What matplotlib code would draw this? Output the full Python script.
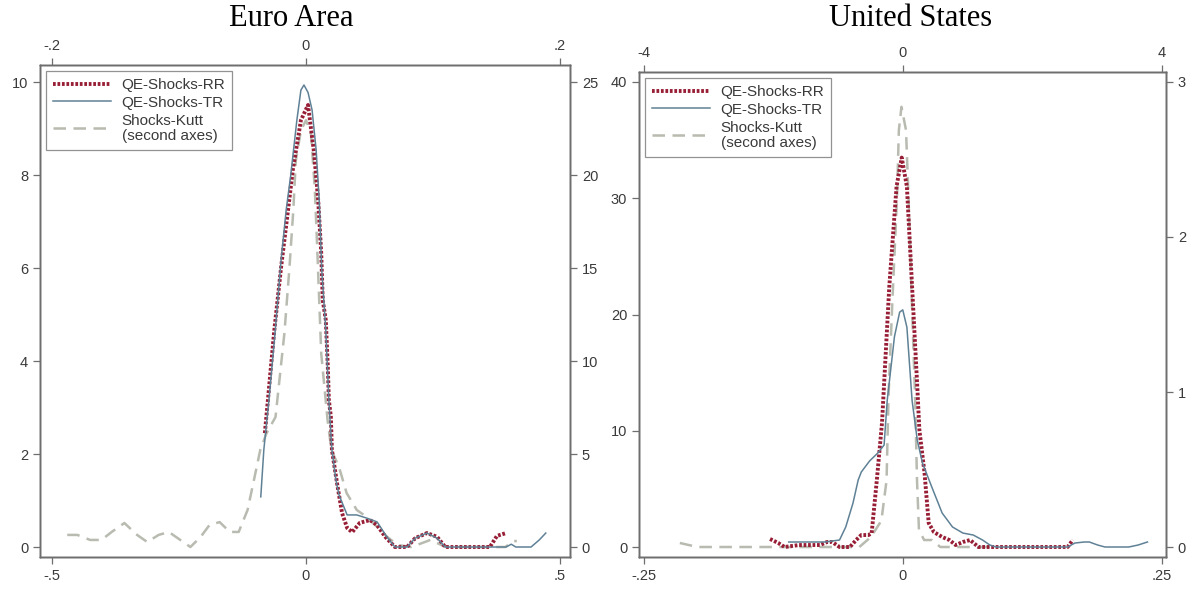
import matplotlib
matplotlib.use("Agg")
import matplotlib.pyplot as plt

# ---- Euro Area ----
ea_rr_x = [-0.081, -0.075, -0.063, -0.049, -0.033, -0.026, -0.010, 0.004, 0.016, 0.024, 0.030,
           0.033, 0.039, 0.043, 0.045, 0.049, 0.051, 0.061, 0.071, 0.081, 0.091, 0.106, 0.126,
           0.140, 0.156, 0.175, 0.199, 0.215, 0.238, 0.258, 0.274, 0.362, 0.376, 0.394]
ea_rr_y = [2.45, 3.16, 4.60, 6.02, 7.46, 8.11, 9.18, 9.51, 8.47, 7.46, 6.32,
           5.31, 4.88, 3.87, 3.16, 2.80, 2.09, 1.38, 0.73, 0.41, 0.32, 0.52, 0.58,
           0.47, 0.22, 0.0, 0.0, 0.19, 0.30, 0.22, 0.0, 0.0, 0.24, 0.30]

ea_tr_x = [-0.089, -0.083, -0.073, -0.061, -0.049, -0.039, -0.030, -0.018, -0.010, -0.004, 0.004,
           0.012, 0.020, 0.026, 0.031, 0.039, 0.045, 0.051, 0.059, 0.065, 0.081, 0.100, 0.120,
           0.140, 0.159, 0.175, 0.199, 0.215, 0.238, 0.258, 0.274, 0.394, 0.404, 0.413, 0.443,
           0.459, 0.472]
ea_tr_y = [1.08, 2.09, 3.16, 4.60, 6.17, 7.25, 8.00, 9.18, 9.83, 9.94, 9.78,
           9.40, 8.54, 7.46, 5.96, 4.67, 3.16, 2.09, 1.44, 1.12, 0.69, 0.69, 0.62,
           0.54, 0.22, 0.0, 0.0, 0.19, 0.30, 0.19, 0.0, 0.0, 0.06, 0.0, 0.0,
           0.15, 0.30]

# Kutt shocks on the second axes (top x, right y)
ea_ku_x = [-0.188, -0.180, -0.170, -0.161, -0.153, -0.143, -0.133, -0.125, -0.116, -0.108, -0.099,
           -0.091, -0.083, -0.076, -0.068, -0.060, -0.053, -0.046, -0.041, -0.036, -0.031, -0.024,
           -0.017, -0.013, -0.010, -0.008, -0.004, 0.0, 0.004, 0.007, 0.009, 0.012, 0.017, 0.020,
           0.026, 0.032, 0.040, 0.048, 0.056, 0.064, 0.072, 0.083, 0.098, 0.110, 0.157, 0.163, 0.166]
ea_ku_y = [0.65, 0.65, 0.38, 0.38, 0.81, 1.29, 0.65, 0.27, 0.65, 0.81, 0.38,
           0.0, 0.54, 1.18, 1.34, 0.81, 0.81, 1.99, 3.60, 5.22, 6.13, 6.99,
           11.5, 15.05, 18.1, 20.8, 22.4, 22.96, 22.2, 19.2, 15.8, 10.4, 6.83, 5.22,
           4.30, 2.90, 1.99, 1.61, 1.08, 0.54, 0.11, 0.0, 0.38, 0.0, 0.0, 0.32, 0.32]

# ---- United States ----
us_rr_x = [-0.128, -0.120, -0.114, -0.100, -0.080, -0.073, -0.068, -0.061, -0.051, -0.045, -0.040,
           -0.033, -0.030, -0.025, -0.020, -0.013, -0.006, -0.001, 0.004, 0.009, 0.014, 0.016,
           0.021, 0.025, 0.030, 0.038, 0.045, 0.051, 0.058, 0.065, 0.073, 0.159, 0.164]
us_rr_y = [0.69, 0.34, 0.0, 0.17, 0.17, 0.43, 0.43, 0.0, 0.0, 0.60, 1.03,
           1.03, 1.20, 5.76, 10.7, 22.4, 31.0, 33.5, 31.0, 22.4, 13.8, 10.1,
           6.37, 2.06, 1.29, 0.86, 0.60, 0.17, 0.43, 0.60, 0.0, 0.0, 0.60]

us_tr_x = [-0.110, -0.084, -0.075, -0.061, -0.055, -0.048, -0.043, -0.040, -0.032, -0.024, -0.018,
           -0.015, -0.008, -0.003, 0.0, 0.004, 0.009, 0.014, 0.019, 0.028, 0.038, 0.048, 0.058,
           0.068, 0.077, 0.084, 0.090, 0.159, 0.166, 0.175, 0.180, 0.188, 0.195, 0.218, 0.227, 0.236]
us_tr_y = [0.43, 0.43, 0.43, 0.60, 1.72, 3.78, 5.76, 6.45, 7.40, 8.09, 8.77,
           12.6, 18.1, 20.2, 20.4, 18.9, 12.6, 9.2, 7.23, 5.16, 2.92, 1.72, 1.20,
           1.03, 0.60, 0.17, 0.0, 0.0, 0.34, 0.43, 0.43, 0.17, 0.0, 0.0, 0.17, 0.43]

us_ku_x = [-3.44, -3.17, -2.02, -0.67, -0.49, -0.33, -0.25, -0.22, -0.16, -0.09, -0.06, -0.02,
           0.05, 0.09, 0.14, 0.19, 0.22, 0.25, 0.33, 0.45, 0.58, 1.36]
us_ku_y = [0.026, 0.0, 0.0, 0.0, 0.065, 0.17, 0.43, 0.97, 1.59, 2.24, 2.69, 2.84,
           2.69, 2.24, 1.59, 0.97, 0.43, 0.11, 0.045, 0.045, 0.0, 0.0]

panels = [
    dict(title="Euro Area", rr=(ea_rr_x, ea_rr_y), tr=(ea_tr_x, ea_tr_y), ku=(ea_ku_x, ea_ku_y),
         xlim=(-0.5236, 0.5197), ylim=(-0.215, 10.37), xticks=[-0.5, 0, 0.5], xlabels=["-.5", "0", ".5"],
         yticks=[0, 2, 4, 6, 8, 10], ytwin=2.5, txticks=[-0.2, 0, 0.2], txlabels=["-.2", "0", ".2"],
         tyticks=[0, 5, 10, 15, 20, 25], txscale=0.4,
         pos=[40 / 1197, 35 / 592, 530 / 1197, 492 / 592], tx=291 / 1197),
    dict(title="United States", rr=(us_rr_x, us_rr_y), tr=(us_tr_x, us_tr_y), ku=(us_ku_x, us_ku_y),
         xlim=(-0.2544, 0.2539), ylim=(-0.86, 40.86), xticks=[-0.25, 0, 0.25], xlabels=["-.25", "0", ".25"],
         yticks=[0, 10, 20, 30, 40], ytwin=3 / 40, txticks=[-4, 0, 4], txlabels=["-4", "0", "4"],
         tyticks=[0, 1, 2, 3], txscale=16,
         pos=[639 / 1197, 35 / 592, 527 / 1197, 485 / 592], tx=911 / 1197),
]

RR_COL = "#981e36"
TR_COL = "#5f8196"
KU_COL = "#b8bbb0"
AX_COL = "#6e6e6e"
TXT_COL = "#3a3a3a"

plt.rcParams["font.family"] = ["Liberation Sans", "DejaVu Sans"]
fig = plt.figure(figsize=(11.97, 5.92), dpi=100)
fig.patch.set_facecolor("white")

for p in panels:
    ax = fig.add_axes(p["pos"])
    ax2 = ax.twinx()
    ax3 = ax2.twiny()

    l_rr, = ax.plot(*p["rr"], color=RR_COL, lw=2.8, linestyle=(0, (0.7, 0.45)),
                    solid_capstyle="butt", label="QE-Shocks-RR", zorder=3)
    l_tr, = ax.plot(*p["tr"], color=TR_COL, lw=1.1, label="QE-Shocks-TR", zorder=4)
    l_ku, = ax3.plot(*p["ku"], color=KU_COL, lw=1.8, linestyle=(0, (5, 3)),
                     label="Shocks-Kutt\n(second axes)")

    ax.set_xlim(p["xlim"])
    ax.set_ylim(p["ylim"])
    ax2.set_ylim(p["ylim"][0] * p["ytwin"], p["ylim"][1] * p["ytwin"])
    ax3.set_xlim(p["xlim"][0] * p["txscale"], p["xlim"][1] * p["txscale"])

    ax.set_xticks(p["xticks"])
    ax.set_xticklabels(p["xlabels"])
    ax.set_yticks(p["yticks"])
    ax.set_yticklabels([str(v) for v in p["yticks"]])
    ax2.set_yticks(p["tyticks"])
    ax2.set_yticklabels([str(v) for v in p["tyticks"]])
    ax3.set_xticks(p["txticks"])
    ax3.set_xticklabels(p["txlabels"])

    # keep the Kutt line behind the QE lines
    ax3.set_zorder(1)
    ax2.set_zorder(1)
    ax.set_zorder(2)
    for a in (ax, ax2, ax3):
        a.patch.set_visible(False)
        for s in a.spines.values():
            s.set_color(AX_COL)
            s.set_linewidth(1.0)
        a.tick_params(colors=AX_COL, labelcolor=TXT_COL, labelsize=10.5, length=5, width=0.9)

    leg = ax.legend(handles=[l_rr, l_tr, l_ku], loc="upper left", fontsize=11,
                    frameon=True, fancybox=False, handlelength=3.8, borderpad=0.45,
                    labelspacing=0.25, handletextpad=0.7, borderaxespad=0.4)
    leg.get_frame().set_edgecolor("#777777")
    leg.get_frame().set_linewidth(0.9)
    for t in leg.get_texts():
        t.set_color(TXT_COL)
        t.set_linespacing(1.1)

    fig.text(p["tx"], 1 - 19 / 592, p["title"], ha="center", va="center",
             fontsize=22, family=["Liberation Serif", "DejaVu Serif"])

fig.savefig("out.png", dpi=100, facecolor="white")
